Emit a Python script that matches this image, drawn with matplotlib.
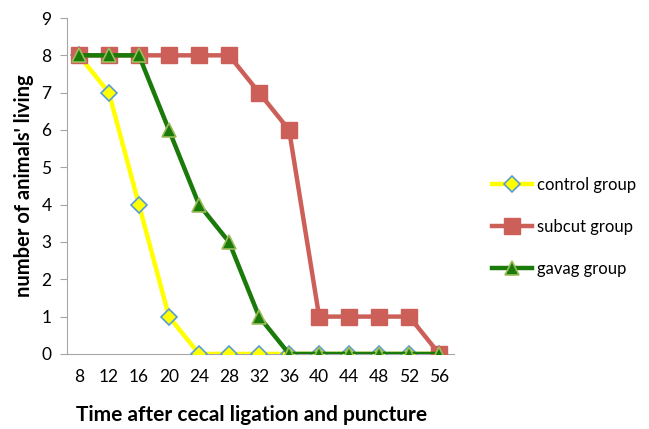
import matplotlib
matplotlib.use("Agg")
import matplotlib.pyplot as plt
import numpy as np

hours = [8, 12, 16, 20, 24, 28, 32, 36, 40, 44, 48, 52, 56]
control = [8, 7, 4, 1, 0, 0, 0, 0, 0, 0, 0, 0, 0]
subcut = [8, 8, 8, 8, 8, 8, 7, 6, 1, 1, 1, 1, 0]
gavag = [8, 8, 8, 6, 4, 3, 1, 0, 0, 0, 0, 0, 0]

plt.rcParams['font.family'] = ['Lato', 'DejaVu Sans']

fig = plt.figure(figsize=(6.49, 4.29), dpi=100)
ax = fig.add_axes([0.103, 0.175, 0.597, 0.783])
x = np.arange(len(hours))

ax.plot(x, control, color='#FFFF00', lw=3.2, marker='D', ms=8,
        mfc='#FFFF00', mec='#5B9BD5', mew=1.2, label='control group', zorder=3)
ax.plot(x, subcut, color='#CD5F59', lw=3.2, marker='s', ms=11.5,
        mfc='#CD5F59', mec='#CD5F59', label='subcut group', zorder=4)
ax.plot(x, gavag, color='#1A7A0A', lw=3.2, marker='^', ms=10.5,
        mfc='#1A7A0A', mec='#9BBB59', mew=1.2, label='gavag group', zorder=5)

ax.set_xlim(-0.4, len(hours) - 0.5)
ax.set_ylim(0, 9)
ax.set_xticks(x)
ax.set_xticklabels([str(h) for h in hours])
ax.set_yticks(range(10))
for s in ['top', 'right']:
    ax.spines[s].set_visible(False)
ax.spines['left'].set_color('#A6A6A6')
ax.spines['bottom'].set_color('#A6A6A6')
ax.tick_params(axis='x', length=0, labelsize=12.5, pad=11)
ax.tick_params(axis='y', length=5, color='#A6A6A6', labelsize=12.5, pad=6)
ax.set_xlabel('Time after cecal ligation and puncture', fontsize=15,
              fontweight='bold', labelpad=11)
ax.xaxis.set_label_coords(0.478, -0.152)
ax.set_ylabel("number of animals' living", fontsize=14.5,
              fontweight='bold', labelpad=5)

leg = fig.legend(loc='upper left', bbox_to_anchor=(0.735, 0.622), frameon=False,
                 fontsize=12, handlelength=2.4, labelspacing=1.55, handletextpad=0.3)

fig.savefig('out.png', dpi=100)
